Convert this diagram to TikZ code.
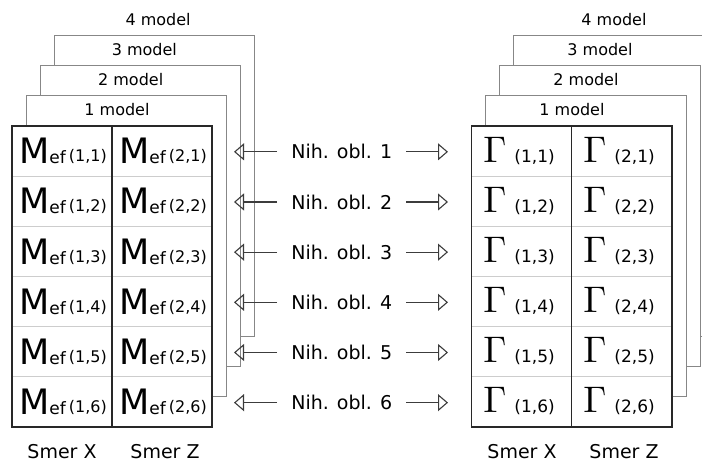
\documentclass[tikz,border=0pt]{standalone}
\usepackage{fontspec}
\setmainfont{DejaVu Sans}
\usepackage{graphicx}
\usepackage{tikz}
\usetikzlibrary{arrows.meta, positioning, calc}
\definecolor{myframe}{RGB}{40,40,40}
\definecolor{mypage}{RGB}{135,135,135}
\definecolor{myrule}{RGB}{205,205,205}
\definecolor{myarrow}{RGB}{60,60,60}
\tikzset{
  page/.style={draw=mypage, fill=white, line width=0.9pt},
  tablebox/.style={draw=myframe, line width=1.2pt},
  rowline/.style={draw=myrule, line width=0.8pt},
  modellabel/.style={font=\fontsize{16}{16}\selectfont, inner sep=0pt},
  dirlabel/.style={font=\fontsize{19}{19}\selectfont, inner sep=0pt},
  smerlabel/.style={font=\fontsize{19}{19}\selectfont, inner sep=0pt},
  cell/.style={inner sep=0pt},
  arrow/.style={-{Triangle[open, length=10pt, width=17pt]}, line width=1.1pt,
    color=myarrow, shorten <=14pt}
}
\newcommand{\mef}[1]{{\fontsize{35}{35}\selectfont M}{\fontsize{17}{17}\selectfont ef}\hspace{3pt}\raisebox{2pt}{\fontsize{16}{16}\selectfont(#1)}}
\newcommand{\gam}[1]{\scalebox{3.7}{$\Gamma$}\hspace{8pt}{\fontsize{17}{17}\selectfont(#1)}}

\begin{document}
\begin{tikzpicture}[x=1pt, y=-1pt]
  \useasboundingbox (0,0) rectangle (702,463);
  \clip (0,0) rectangle (702,463);

  % Model pages stacked behind both tables
  \foreach \k in {3,2,1} {
    \draw[page] ({12+14*\k},{126-30.3*\k}) rectangle ({212+14*\k},{427-30.3*\k});
    \draw[page] ({471.7+14*\k},{126-30.3*\k}) rectangle ({672+14*\k},{427-30.3*\k});
  }
  \foreach \k in {1,...,4} {
    \node[modellabel] (lmod\k) at ({117+13.7*(\k-1)},{110-30.3*(\k-1)}) {\k\ model};
    \node[modellabel] (rmod\k) at ({572+14*(\k-1)},{110-30.3*(\k-1)}) {\k\ model};
  }

  % Front tables
  \fill[white] (12,126) rectangle (212,427);
  \fill[white] (471.7,126) rectangle (672,427);
  \foreach \i in {1,...,5} {
    \draw[rowline] (12,{126+50.17*\i}) -- (212,{126+50.17*\i});
    \draw[rowline] (471.7,{126+50.17*\i}) -- (672,{126+50.17*\i});
  }
  \draw[tablebox] (12,126) rectangle (212,427);
  \draw[tablebox] (112,126) -- (112,427);
  \draw[tablebox] (471.7,126) rectangle (672,427);
  \draw[tablebox] (571.7,126) -- (571.7,427);

  % Cells, zone labels and arrows
  \foreach \i in {1,...,6} {
    \node[cell] (mx\i) at (63,{151.1+50.17*(\i-1)}) {\mef{1,\i}};
    \node[cell] (mz\i) at (163,{151.1+50.17*(\i-1)}) {\mef{2,\i}};
    \node[cell] (gx\i) at (519,{150.5+50.17*(\i-1)}) {\gam{1,\i}};
    \node[cell] (gz\i) at (619,{150.5+50.17*(\i-1)}) {\gam{2,\i}};
    \node[dirlabel] (nih\i) at (341.7,{151.8+50.17*(\i-1)}) {Nih. obl. \i};
    \coordinate (ltip\i) at (234,{151.8+50.17*(\i-1)});
    \coordinate (rtip\i) at (448,{151.8+50.17*(\i-1)});
    \draw[arrow] (nih\i.west) -- (ltip\i);
    \draw[arrow] (nih\i.east) -- (rtip\i);
  }

  % Direction labels
  \node[smerlabel] (lsx) at (62,452) {Smer X};
  \node[smerlabel] (lsz) at (165,452) {Smer Z};
  \node[smerlabel] (rsx) at (522,452) {Smer X};
  \node[smerlabel] (rsz) at (624,452) {Smer Z};
\end{tikzpicture}
\end{document}
